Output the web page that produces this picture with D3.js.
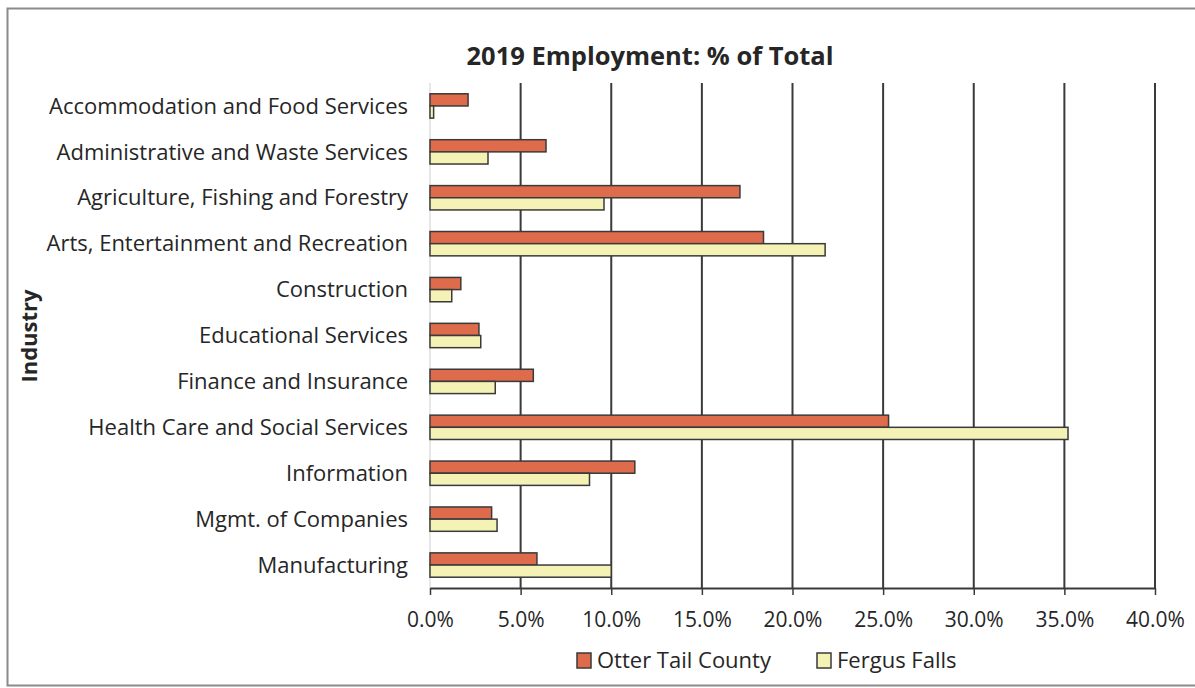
<!DOCTYPE html>
<html>
<head>
<meta charset="utf-8">
<script src="https://cdn.jsdelivr.net/npm/d3@7"></script>
<style>
  html, body { margin: 0; padding: 0; background: #fff; }
  svg { display: block; }
  text { font-family: "Open Sans", Lato, sans-serif; fill: #262626; }
</style>
</head>
<body>
<svg id="chart" width="1195" height="688"></svg>
<script>
// Industries, top to bottom
const categories = [
  "Accommodation and Food Services",
  "Administrative and Waste Services",
  "Agriculture, Fishing and Forestry",
  "Arts, Entertainment and Recreation",
  "Construction",
  "Educational Services",
  "Finance and Insurance",
  "Health Care and Social Services",
  "Information",
  "Mgmt. of Companies",
  "Manufacturing"
];

// Share of total 2019 employment (%)
const otterTail = [2.1, 6.4, 17.1, 18.4, 1.7, 2.7, 5.7, 25.3, 11.3, 3.4, 5.9];
const fergusFalls = [0.2, 3.2, 9.6, 21.8, 1.2, 2.8, 3.6, 35.2, 8.8, 3.7, 10.0];

const seriesNames = ["Otter Tail County", "Fergus Falls"];
const seriesColors = ["#DE6B4B", "#F5F2B6"];
const xTicks = [0, 5, 10, 15, 20, 25, 30, 35, 40];

const svg = d3.select("#chart");

// outer chart frame
svg.append("rect")
  .attr("x", 7.5).attr("y", 8.5)
  .attr("width", 1200).attr("height", 677)
  .attr("fill", "none").attr("stroke", "#8a8a8a").attr("stroke-width", 2);

const plot = { left: 430, right: 1155, top: 83, bottom: 588 };

const x = d3.scaleLinear().domain([0, 40]).range([plot.left, plot.right]);
const y = d3.scaleBand().domain(categories).range([plot.top, plot.bottom]).paddingInner(0.47).paddingOuter(0.235);
const ySub = d3.scaleBand().domain(seriesNames).range([0, y.bandwidth()]);

// vertical gridlines
svg.append("g")
  .selectAll("line")
  .data(xTicks.filter(d => d > 0))
  .join("line")
  .attr("x1", d => x(d)).attr("x2", d => x(d))
  .attr("y1", plot.top).attr("y2", plot.bottom)
  .attr("stroke", "#3a3a3a").attr("stroke-width", 2);

// category axis line
svg.append("line")
  .attr("x1", plot.left).attr("x2", plot.left)
  .attr("y1", plot.top).attr("y2", plot.bottom)
  .attr("stroke", "#cfcfcf").attr("stroke-width", 1);

// bars
const series = [otterTail, fergusFalls];
series.forEach((vals, si) => {
  svg.append("g")
    .selectAll("rect")
    .data(vals)
    .join("rect")
    .attr("x", x(0))
    .attr("y", (d, i) => y(categories[i]) + ySub(seriesNames[si]))
    .attr("width", d => x(d) - x(0))
    .attr("height", ySub.bandwidth())
    .attr("fill", seriesColors[si])
    .attr("stroke", "#3a3a3a")
    .attr("stroke-width", 1.5);
});

// x axis
const xAxis = d3.axisBottom(x)
  .tickValues(xTicks)
  .tickFormat(d => d.toFixed(1) + "%")
  .tickSize(7)
  .tickSizeOuter(0);
const gx = svg.append("g")
  .attr("transform", `translate(0,${plot.bottom})`)
  .call(xAxis);
gx.select(".domain").attr("stroke", "#3a3a3a").attr("stroke-width", 2);
gx.selectAll(".tick line").attr("stroke", "#3a3a3a").attr("stroke-width", 1.5);
gx.selectAll(".tick text")
  .attr("dy", 0).attr("y", 39)
  .style("font-family", "'Open Sans', Lato, sans-serif")
  .style("font-size", "21px").attr("fill", "#262626");

// category labels
svg.append("g")
  .selectAll("text")
  .data(categories)
  .join("text")
  .attr("x", 408)
  .attr("y", d => y(d) + y.bandwidth() / 2)
  .attr("dy", "0.35em")
  .attr("text-anchor", "end")
  .style("font-size", "22px")
  .text(d => d);

// title
svg.append("text")
  .attr("x", 650).attr("y", 65)
  .attr("text-anchor", "middle")
  .style("font-size", "25.5px").style("font-weight", "bold")
  .text("2019 Employment: % of Total");

// axis title
svg.append("text")
  .attr("transform", "translate(37,336) rotate(-90)")
  .attr("text-anchor", "middle")
  .style("font-size", "22px").style("font-weight", "bold")
  .text("Industry");

// legend
const legendItems = [
  { name: seriesNames[0], color: seriesColors[0], x: 577 },
  { name: seriesNames[1], color: seriesColors[1], x: 817 }
];
const lg = svg.append("g").selectAll("g").data(legendItems).join("g")
  .attr("transform", d => `translate(${d.x},653)`);
lg.append("rect")
  .attr("width", 14).attr("height", 15)
  .attr("fill", d => d.color).attr("stroke", "#3a3a3a").attr("stroke-width", 1.5);
lg.append("text")
  .attr("x", 20).attr("y", 7.5).attr("dy", "0.35em")
  .style("font-size", "22px")
  .text(d => d.name);
</script>
</body>
</html>
